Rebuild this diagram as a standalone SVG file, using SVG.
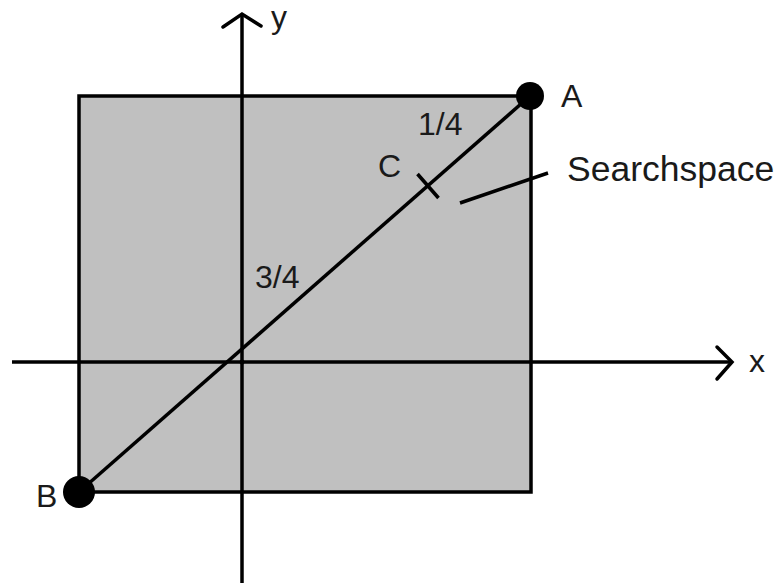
<svg xmlns="http://www.w3.org/2000/svg" width="780" height="583" viewBox="0 0 780 583">
<style>
.ln{stroke:#000;stroke-width:3.5;fill:none;stroke-linecap:butt}
.ar{stroke:#000;stroke-width:3.5;fill:none;stroke-linecap:round;stroke-linejoin:miter}
.t{font-family:"Liberation Sans",Arial,sans-serif;font-size:32px;fill:#1a1a1a}
</style>
<rect width="780" height="583" fill="#fff"/>
<g id="searchspace">
<rect x="79" y="96" width="452" height="396" fill="#c0c0c0" stroke="#000" stroke-width="3.5"/>
</g>
<g id="axes">
<line class="ln" x1="242" y1="15" x2="242" y2="583"/>
<line class="ln" x1="12" y1="362" x2="731" y2="362"/>
<polyline class="ar" points="223,27 242,14 261,26"/>
<polyline class="ar" points="717,347 732,362 717,379"/>
<circle cx="242" cy="362" r="2.5" fill="#000"/>
<text class="t" x="271" y="28">y</text>
<text class="t" x="749" y="372">x</text>
</g>
<g id="connectors">
<line class="ln" x1="79" y1="492" x2="530" y2="96"/>
<line class="ln" x1="417.5" y1="174" x2="438.5" y2="198"/>
<line class="ln" x1="460" y1="203" x2="548" y2="173"/>
</g>
<g id="A">
<circle cx="530" cy="96" r="14" fill="#000"/>
<text class="t" x="561" y="107">A</text>
</g>
<g id="B">
<circle cx="79" cy="492" r="16" fill="#000"/>
<text class="t" x="36" y="507">B</text>
</g>
<g id="C">
<text class="t" x="378" y="177">C</text>
</g>
<g id="labels">
<text class="t" x="418" y="135">1/4</text>
<text class="t" x="255" y="288">3/4</text>
<text class="t" x="567" y="181" style="font-size:35.5px">Searchspace</text>
</g>
</svg>
